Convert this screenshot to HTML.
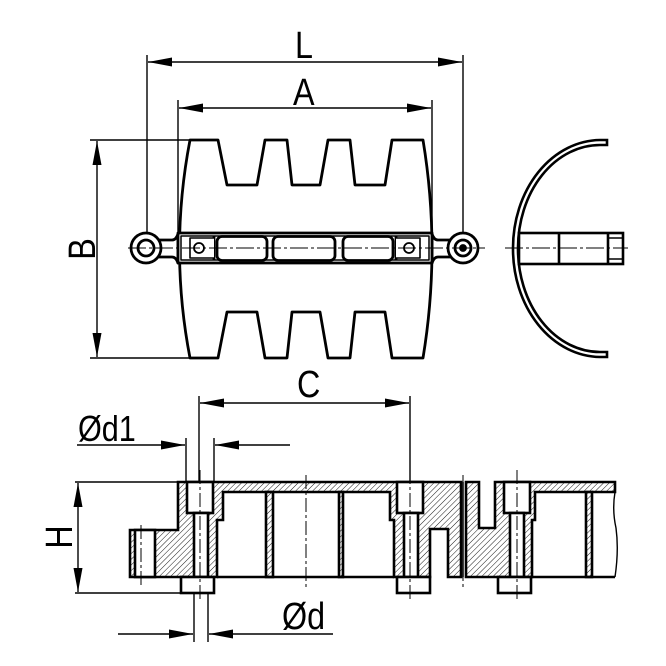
<!DOCTYPE html>
<html><head><meta charset="utf-8"><style>
html,body{margin:0;padding:0;background:#fff}
svg{display:block}
text{font-family:"Liberation Sans",sans-serif;fill:#000}
</style></head><body>
<svg width="666" height="666" viewBox="0 0 666 666" xmlns="http://www.w3.org/2000/svg">
<defs>
<pattern id="h" patternUnits="userSpaceOnUse" width="4" height="4" patternTransform="rotate(45)">
<rect width="4" height="4" fill="#fff"/><line x1="0" y1="0" x2="0" y2="4" stroke="#000" stroke-width="0.9"/>
</pattern>
<marker id="a" viewBox="0 0 24 10" refX="24" refY="5" markerWidth="24" markerHeight="10" markerUnits="userSpaceOnUse" orient="auto-start-reverse">
<path d="M0,0.5 L24,5 L0,9.5 Z" fill="#000"/></marker>
</defs>

<g fill="none" stroke="#000" stroke-width="1.4">
<line x1="147" y1="55" x2="147" y2="232"/><line x1="463" y1="55" x2="463" y2="232"/>
<line x1="148" y1="62" x2="462" y2="62" marker-start="url(#a)" marker-end="url(#a)"/>
<line x1="178" y1="100" x2="178" y2="232"/><line x1="432" y1="100" x2="432" y2="232"/>
<line x1="179" y1="108" x2="431" y2="108" marker-start="url(#a)" marker-end="url(#a)"/>
<line x1="90" y1="140" x2="190" y2="140"/><line x1="90" y1="358" x2="190" y2="358"/>
<line x1="97" y1="141" x2="97" y2="357" marker-start="url(#a)" marker-end="url(#a)"/>
</g>
<text transform="translate(295,58) scale(0.85,1)" font-size="38">L</text>
<text transform="translate(293,105) scale(0.85,1)" font-size="38">A</text>
<text transform="translate(95,249) rotate(-90) scale(0.85,1)" font-size="38" text-anchor="middle">B</text>

<g stroke="#000" stroke-width="2.8" fill="#fff" stroke-linejoin="round">
<path d="M190,140 L218,140 L227,185 L257,185 L265,140 L287,140 L292,185 L320,185 L328,140 L350,140 L355,185 L385,185 L392,140 L423,140 Q441,249 423,358 L392,358 L385,312 L355,312 L350,358 L328,358 L320,312 L292,312 L287,358 L265,358 L257,312 L227,312 L218,358 L190,358 Q169,249 190,140 Z"/>
<path d="M158,240 L172,240 Q176,240 178,234 L178,263 Q176,257 172,257 L158,257"/>
<path d="M452,240 L438,240 Q434,240 432,234 L432,263 Q434,257 438,257 L452,257"/>
<circle cx="146" cy="248" r="15"/><circle cx="146" cy="248" r="8"/>
<circle cx="463" cy="248" r="15"/><circle cx="463" cy="248" r="8"/><circle cx="463" cy="248" r="2.5" fill="#000"/>
<rect x="178" y="233" width="254" height="30"/>
<rect x="181" y="236" width="248" height="24" stroke-width="1.5"/>
<line x1="214" y1="236" x2="214" y2="260"/><line x1="396" y1="236" x2="396" y2="260"/>
<path d="M214,238 L190,238 L190,258 L214,258" stroke-width="1.6"/>
<path d="M396,238 L420,238 L420,258 L396,258" stroke-width="1.6"/>
<circle cx="199" cy="248" r="5" stroke-width="1.8"/><circle cx="409" cy="248" r="5" stroke-width="1.8"/>
<rect x="217" y="236.5" width="50" height="24" rx="5"/>
<rect x="273" y="236.5" width="62" height="24" rx="5"/>
<rect x="343" y="236.5" width="50" height="24" rx="5"/>
</g>
<line x1="128" y1="248" x2="485" y2="248" stroke="#000" stroke-width="1" stroke-dasharray="18,3,3,3"/>

<g stroke="#000" stroke-width="2.6" fill="none">
<path d="M607,140 L600,140 A 88 108 0 0 0 513,248 A 88 108 0 0 0 600,357 L607,357 L607,352 L600,352 A 82 103 0 0 1 518,248 A 82 103 0 0 1 600,145 L607,145 Z" fill="#fff"/>
<rect x="519" y="233" width="104" height="31" fill="#fff"/>
<line x1="559" y1="233" x2="559" y2="264"/>
<line x1="608" y1="233" x2="608" y2="264"/>
<line x1="608" y1="238" x2="623" y2="238" stroke-width="1.5"/><line x1="608" y1="259" x2="623" y2="259" stroke-width="1.5"/>
</g>
<line x1="505" y1="248" x2="628" y2="248" stroke="#000" stroke-width="1" stroke-dasharray="18,3,3,3"/>

<g fill="none" stroke="#000" stroke-width="1.4">
<line x1="199" y1="396" x2="199" y2="482"/><line x1="410" y1="396" x2="410" y2="482"/>
<line x1="200" y1="403" x2="409" y2="403" marker-start="url(#a)" marker-end="url(#a)"/>
<line x1="186" y1="438" x2="186" y2="482"/><line x1="214" y1="438" x2="214" y2="482"/>
<line x1="77" y1="445" x2="185" y2="445" marker-end="url(#a)"/>
<line x1="290" y1="445" x2="215" y2="445" marker-end="url(#a)"/>
<line x1="75" y1="482" x2="178" y2="482"/><line x1="75" y1="593" x2="181" y2="593"/>
<line x1="78" y1="483" x2="78" y2="592" marker-start="url(#a)" marker-end="url(#a)"/>
<line x1="194" y1="593" x2="194" y2="642"/><line x1="208" y1="593" x2="208" y2="642"/>
<line x1="118" y1="634" x2="193" y2="634" marker-end="url(#a)"/>
<line x1="333" y1="634" x2="209" y2="634" marker-end="url(#a)"/>
</g>
<text transform="translate(297,397) scale(0.85,1)" font-size="38">C</text>
<text transform="translate(78,441) scale(0.85,1)" font-size="36">Ød1</text>
<text transform="translate(282,629) scale(0.85,1)" font-size="38">Ød</text>
<text transform="translate(72,537) rotate(-90) scale(0.85,1)" font-size="38" text-anchor="middle">H</text>

<g stroke="#000" stroke-width="2.6" stroke-linejoin="miter">
<path fill="url(#h)" d="M130,530 L178,530 L178,482 L461,482 L461,577 L448,577 L448,529 L430,529 L430,577 L394,577 L394,520 L390,520 L390,492 L223,492 L223,520 L217,520 L217,577 L130,577 Z"/>
<rect x="266" y="492" width="7" height="85" fill="url(#h)"/>
<rect x="339" y="492" width="4" height="85" fill="url(#h)"/>
<path fill="url(#h)" d="M466,482 L479,482 L479,528 L495,528 L495,482 L615,482 L615,492 L535,492 L535,520 L532,520 L532,577 L466,577 Z"/>
<rect x="586" y="492" width="6" height="85" fill="url(#h)"/>
<rect x="135" y="530" width="20" height="47" fill="#fff"/>
<rect x="187" y="482" width="26" height="31" fill="#fff"/>
<rect x="194" y="513" width="14" height="64" fill="#fff"/>
<rect x="181" y="577" width="33" height="16" fill="#fff"/>
<rect x="397" y="482" width="26" height="31" fill="#fff"/>
<rect x="404" y="513" width="14" height="64" fill="#fff"/>
<rect x="397" y="577" width="33" height="16" fill="#fff"/>
<rect x="504" y="482" width="26" height="31" fill="#fff"/>
<rect x="510" y="513" width="14" height="64" fill="#fff"/>
<rect x="498" y="577" width="33" height="16" fill="#fff"/>
<line x1="217" y1="577" x2="394" y2="577"/>
<line x1="532" y1="577" x2="615" y2="577"/>
<line x1="463" y1="482" x2="463" y2="577" stroke-width="1.5"/>
<path d="M615,492 Q612,510 616,528 Q619,550 615,577" fill="none" stroke-width="1.4"/>
</g>
<g stroke="#000" stroke-width="1" stroke-dasharray="14,3,3,3">
<line x1="141" y1="525" x2="141" y2="585"/>
<line x1="200" y1="470" x2="200" y2="600"/>
<line x1="306" y1="475" x2="306" y2="590"/>
<line x1="410" y1="470" x2="410" y2="600"/>
<line x1="463" y1="475" x2="463" y2="590"/>
<line x1="517" y1="470" x2="517" y2="600"/>
</g>
</svg>
</body></html>
